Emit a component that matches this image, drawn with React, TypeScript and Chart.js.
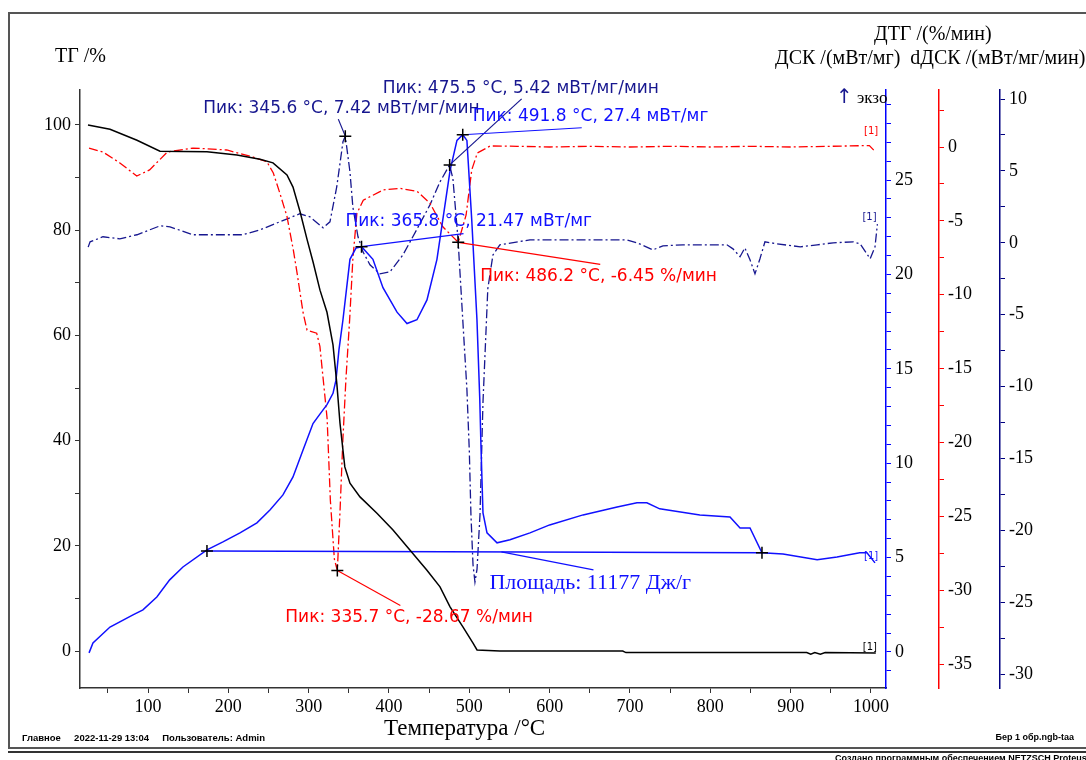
import React, { useEffect, useRef } from 'react';
import { Chart, registerables } from 'chart.js';

Chart.register(...registerables);

// ---------------- data ----------------
// TG, % vs temperature °C
const tgTemp = [25.3, 52.7, 86.3, 114.9, 173.4, 210.7, 239.4, 255.6, 273, 280.5, 289.3, 297.9, 305.4, 314.1, 322.8, 330.3, 335.2, 339, 345, 351.4, 363.9, 385, 405, 426, 447, 463.5, 476, 492, 504.6, 509.6, 538, 691, 695, 920, 925, 930, 937, 943, 1006];
const tgMass = [100.0, 99.2, 97.1, 95.0, 94.9, 94.3, 93.5, 92.8, 90.5, 88.2, 83.5, 78.3, 74.0, 68.6, 64.4, 58.2, 50.6, 43.3, 35.0, 31.9, 29.3, 26.2, 23.0, 19.2, 15.4, 12.2, 8.4, 4.6, 1.5, 0.2, 0.0, 0.0, -0.3, -0.3, -0.6, -0.3, -0.6, -0.3, -0.4];

// DTG, %/min
const dtgTemp = [26.6, 44, 65, 86, 102, 124, 156, 198, 231, 248, 256, 264, 273, 281, 285.5, 293, 298, 310, 314, 319, 323, 327, 332, 335.7, 339, 342.6, 346.4, 351, 355, 360, 368, 393, 414, 435, 451, 467, 486.2, 496, 503, 510, 526, 560, 600, 650, 700, 750, 800, 850, 900, 950, 998, 1005];
const dtgRate = [-0.07, -0.34, -1.08, -1.96, -1.55, -0.34, -0.07, -0.2, -0.68, -1.0, -1.76, -3.1, -4.7, -7.0, -8.5, -11.2, -12.4, -12.6, -13.5, -16.2, -18.4, -23.9, -27.9, -28.67, -24.7, -19.8, -15.7, -11.7, -7.6, -4.5, -3.6, -2.9, -2.8, -3.0, -3.8, -5.4, -6.45, -4.6, -1.55, -0.4, 0.07, 0.05, 0.0, 0.05, 0.0, 0.05, 0.0, 0.05, 0.0, 0.05, 0.1, -0.3];

// DSC, mW/mg
const dscTemp = [26.6, 31.5, 52.7, 81.3, 93.7, 111, 127, 143.5, 173.4, 193.3, 214.5, 235.6, 251.8, 268, 280.5, 293, 305.4, 314, 322.8, 330.3, 334, 337.7, 342.7, 351.4, 359, 365.8, 380, 392.5, 410, 422.4, 434.8, 447.3, 459.7, 467, 476, 484.6, 491.8, 497, 503, 509.5, 513, 514.5, 517, 522, 534.5, 550.6, 575.5, 600, 641.6, 684, 708.7, 721, 737, 787, 824.5, 837, 849.4, 864.3, 890.5, 933, 957.7, 986, 995, 1005];
const dscSignal = [-0.05, 0.48, 1.32, 1.96, 2.23, 2.91, 3.82, 4.5, 5.41, 5.83, 6.31, 6.84, 7.52, 8.32, 9.27, 10.7, 12.1, 12.6, 13.1, 13.7, 14.4, 16.0, 17.6, 20.8, 21.4, 21.47, 20.8, 19.3, 18.0, 17.4, 17.6, 18.65, 20.8, 22.9, 25.5, 27.1, 27.4, 27.1, 22.9, 17.6, 13.4, 10.9, 7.37, 6.31, 5.78, 5.94, 6.31, 6.73, 7.26, 7.68, 7.9, 7.9, 7.58, 7.26, 7.15, 6.57, 6.57, 5.25, 5.19, 4.88, 5.03, 5.25, 5.25, 4.72];

// dDSC, mW/mg/min
const ddscTemp = [25.5, 27.9, 44, 65, 86.3, 115, 127.4, 156, 186, 218, 239.4, 264, 289, 301.6, 318, 326.5, 335, 342.7, 345.6, 351.4, 355, 361.4, 367.6, 376.3, 388.7, 401.2, 417.4, 435, 451, 463.5, 475.5, 479.6, 485.9, 492, 497, 500, 502, 504.6, 507, 509.6, 513.3, 517, 523, 529.4, 538, 575.5, 621.6, 696, 708.7, 728.6, 741, 766, 820.7, 828.2, 837, 843, 849.4, 855.6, 861.8, 868, 883, 912, 933, 953, 978, 986.5, 999, 1005, 1008];
const ddscSignal = [-0.3, 0.07, 0.42, 0.28, 0.56, 1.18, 1.11, 0.56, 0.56, 0.56, 0.9, 1.46, 2.02, 1.81, 1.04, 1.46, 3.9, 7.03, 7.42, 4.94, 2.5, 0.42, -0.63, -1.53, -2.16, -2.02, -0.84, 0.97, 2.64, 4.24, 5.42, 4.45, 0.28, -5.5, -10.2, -14.5, -18.9, -22.4, -23.6, -22.7, -18.9, -11.1, -3.2, -0.84, -0.14, 0.21, 0.21, 0.21, 0.0, -0.49, -0.21, -0.14, -0.14, -0.42, -0.97, -0.35, -1.18, -2.16, -1.11, 0.07, -0.07, -0.28, -0.14, 0.0, 0.07, -0.07, -1.11, -0.28, 1.3];

// DSC integration baseline (area 11177 J/g)
const baselineTemp = [173.4, 864.3];
const baselineDsc = [5.35, 5.25];

// axis ranges / ticks
const tempRange = [15.35, 1018.7];
const tgRange = [-7.03, 106.65];
const dscRange = [-1.91, 29.77];
const dtgRange = [-36.62, 3.86];
const ddscRange = [-30.97, 10.63];

const NAVY = '#17178f';
const BLUE = '#1010ff';
const RED = '#ff0000';

const SERIF = "'Liberation Serif', 'Times New Roman', serif";
const SANS = "'DejaVu Sans', sans-serif";

type Ann = { axis: string; t: number; v: number; text?: string; color: string; dx?: number; dy?: number; lx?: number; ly?: number; font?: string; marker?: boolean };

const annotations: Ann[] = [
  { axis: 'yDDSC', t: 345.6, v: 7.42, text: 'Пик: 345.6 °C, 7.42 мВт/мг/мин', color: NAVY, dx: -142, dy: -28, lx: -7, ly: -17, marker: true },
  { axis: 'yDDSC', t: 475.5, v: 5.42, text: 'Пик: 475.5 °C, 5.42 мВт/мг/мин', color: NAVY, dx: -67, dy: -76, lx: 72, ly: -66, marker: true },
  { axis: 'yDSC', t: 491.8, v: 27.4, text: 'Пик: 491.8 °C, 27.4 мВт/мг', color: BLUE, dx: 10, dy: -18, lx: 119, ly: -7, marker: true },
  { axis: 'yDSC', t: 365.8, v: 21.47, text: 'Пик: 365.8 °C, 21.47 мВт/мг', color: BLUE, dx: -16, dy: -25, lx: 102, ly: -13, marker: true },
  { axis: 'yDTG', t: 486.2, v: -6.45, text: 'Пик: 486.2 °C, -6.45 %/мин', color: RED, dx: 22, dy: 34, lx: 142, ly: 22, marker: true },
  { axis: 'yDTG', t: 335.7, v: -28.67, text: 'Пик: 335.7 °C, -28.67 %/мин', color: RED, dx: -52, dy: 47, lx: 63, ly: 35, marker: true },
  { axis: 'yDSC', t: 540, v: 5.3, text: 'Площадь: 11177 Дж/г', color: BLUE, dx: -12, dy: 31, lx: 92, ly: 18, font: `22px ${SERIF}` },
  { axis: 'yDSC', t: 173.4, v: 5.35, color: BLUE, marker: true },
  { axis: 'yDSC', t: 864.3, v: 5.25, color: BLUE, marker: true },
  { axis: 'yDTG', t: 1005, v: -0.3, text: '[1]', color: RED, dx: -11, dy: -20, font: `10px ${SANS}` },
  { axis: 'yDDSC', t: 1008, v: 1.3, text: '[1]', color: NAVY, dx: -15, dy: -7, font: `10px ${SANS}` },
  { axis: 'yDSC', t: 1005, v: 4.72, text: '[1]', color: BLUE, dx: -11, dy: -6, font: `10px ${SANS}` },
  { axis: 'yTG', t: 1006, v: -0.4, text: '[1]', color: '#000', dx: -13, dy: -6, font: `10px ${SANS}` },
];

const pts = (xs: number[], ys: number[]) => xs.map((x, i) => ({ x, y: ys[i] }));

const labelEvery = (n: number, lo: number, hi: number) => (v: any) => {
  const num = Number(v);
  const r = num / n;
  if (Math.abs(r - Math.round(r)) < 1e-6 && num >= lo - 1e-6 && num <= hi + 1e-6) return String(Math.round(num));
  return '';
};

const yAxis = (position: string, range: number[], step: number, every: number, lo: number, hi: number, color: string, width: number, weight: number) => ({
  type: 'linear',
  position,
  min: range[0],
  max: range[1],
  weight,
  border: { display: true, color, width: 1.5 },
  grid: { drawOnChartArea: false, drawTicks: true, tickLength: 5, color, tickWidth: 1 },
  ticks: {
    stepSize: step,
    autoSkip: false,
    includeBounds: false,
    padding: 4,
    color: '#000',
    font: { family: SERIF, size: 18 },
    callback: labelEvery(every, lo, hi),
  },
  afterFit: (s: any) => {
    s.width = width;
  },
});

const peakPlugin = {
  id: 'peakPlugin',
  afterDatasetsDraw(chart: any) {
    const ctx = chart.ctx;
    const xs = chart.scales.x;
    ctx.save();
    for (const a of annotations) {
      const ys = chart.scales[a.axis];
      const px = xs.getPixelForValue(a.t);
      const py = ys.getPixelForValue(a.v);
      if (a.lx !== undefined && a.ly !== undefined) {
        ctx.strokeStyle = a.color;
        ctx.lineWidth = 1.2;
        ctx.setLineDash([]);
        ctx.beginPath();
        ctx.moveTo(px, py);
        ctx.lineTo(px + a.lx, py + a.ly);
        ctx.stroke();
      }
      if (a.text) {
        ctx.font = a.font || `17px ${SANS}`;
        ctx.fillStyle = a.color;
        ctx.textBaseline = 'middle';
        ctx.textAlign = 'left';
        ctx.fillText(a.text, px + (a.dx || 0), py + (a.dy || 0));
      }
    }
    for (const a of annotations) {
      if (!a.marker) continue;
      const ys = chart.scales[a.axis];
      const px = xs.getPixelForValue(a.t);
      const py = ys.getPixelForValue(a.v);
      ctx.strokeStyle = '#000';
      ctx.lineWidth = 1.5;
      ctx.beginPath();
      ctx.moveTo(px - 6, py);
      ctx.lineTo(px + 6, py);
      ctx.moveTo(px, py - 6);
      ctx.lineTo(px, py + 6);
      ctx.stroke();
    }
    ctx.restore();
  },
};

function ChartCanvas() {
  const ref = useRef<HTMLCanvasElement | null>(null);
  useEffect(() => {
    if (!ref.current) return;
    const dashDot = [9, 3, 2, 3];
    const chart = new Chart(ref.current, {
      type: 'line',
      data: {
        datasets: [
          { label: 'ТГ', data: pts(tgTemp, tgMass), yAxisID: 'yTG', borderColor: '#000', borderWidth: 1.5, pointRadius: 0, tension: 0 },
          { label: 'ДСК', data: pts(dscTemp, dscSignal), yAxisID: 'yDSC', borderColor: BLUE, borderWidth: 1.5, pointRadius: 0, tension: 0 },
          { label: 'baseline', data: pts(baselineTemp, baselineDsc), yAxisID: 'yDSC', borderColor: BLUE, borderWidth: 1.5, pointRadius: 0, tension: 0 },
          { label: 'ДТГ', data: pts(dtgTemp, dtgRate), yAxisID: 'yDTG', borderColor: RED, borderWidth: 1.3, borderDash: dashDot, pointRadius: 0, tension: 0 },
          { label: 'dДСК', data: pts(ddscTemp, ddscSignal), yAxisID: 'yDDSC', borderColor: NAVY, borderWidth: 1.3, borderDash: dashDot, pointRadius: 0, tension: 0 },
        ],
      } as any,
      options: {
        animation: false,
        responsive: false,
        maintainAspectRatio: false,
        events: [],
        layout: { padding: { top: 90, left: 0, right: 0, bottom: 0 } },
        plugins: { legend: { display: false }, tooltip: { enabled: false } },
        scales: {
          x: {
            type: 'linear',
            position: 'bottom',
            min: tempRange[0],
            max: tempRange[1],
            border: { display: true, color: '#333', width: 1.5 },
            grid: { drawOnChartArea: false, drawTicks: true, tickLength: 5, color: '#333' },
            ticks: {
              stepSize: 50,
              autoSkip: false,
              includeBounds: false,
              maxRotation: 0,
              padding: 3,
              color: '#000',
              font: { family: SERIF, size: 18 },
              callback: labelEvery(100, 100, 1000),
            },
            afterFit: (s: any) => {
              s.height = 72;
            },
          },
          yTG: yAxis('left', tgRange, 10, 20, 0, 100, '#333', 80, 0),
          yDSC: yAxis('right', dscRange, 1, 5, 0, 25, '#0000ff', 53, 1),
          yDTG: yAxis('right', dtgRange, 2.5, 5, -35, 0, RED, 61, 2),
          yDDSC: yAxis('right', ddscRange, 2.5, 5, -30, 10, '#000080', 86, 3),
        },
      } as any,
      plugins: [peakPlugin],
    });
    return () => chart.destroy();
  }, []);
  return <canvas ref={ref} width={1086} height={760} style={{ position: 'absolute', left: 0, top: 0 }} />;
}

const txt = (style: React.CSSProperties): React.CSSProperties => ({
  position: 'absolute',
  whiteSpace: 'pre',
  lineHeight: 1,
  transform: 'translateY(-50%)',
  ...style,
});

export default function App() {
  return (
    <div style={{ position: 'absolute', left: 0, top: 0, width: 1086, height: 760, overflow: 'hidden', background: '#fff' }}>
      <div style={{ position: 'absolute', left: 8, top: 12, width: 1100, height: 737, border: '2px solid #555', boxSizing: 'border-box' }} />
      <div style={{ position: 'absolute', left: 8, top: 751, width: 1100, height: 2, background: '#333' }} />
      <ChartCanvas />
      <div style={txt({ left: 55, top: 55, font: `20px ${SERIF}`, color: '#000' })}>ТГ /%</div>
      <div style={txt({ left: 874, top: 33, font: `20px ${SERIF}`, color: '#000' })}>ДТГ /(%/мин)</div>
      <div style={txt({ left: 775, top: 57, font: `20px ${SERIF}`, color: '#000' })}>ДСК /(мВт/мг)  dДСК /(мВт/мг/мин)</div>
      <div style={txt({ left: 836, top: 96, font: `17px ${SERIF}`, color: '#000' })}>
        <span style={{ color: NAVY, fontSize: 20, fontFamily: "'DejaVu Sans', sans-serif" }}>↑</span> экзо
      </div>
      <div style={txt({ left: 384, top: 728, font: `23px ${SERIF}`, color: '#000' })}>Температура /°C</div>
      <div style={txt({ left: 22, top: 737, font: `bold 9.5px 'Liberation Sans', sans-serif`, color: '#000' })}>
        Главное     2022-11-29 13:04     Пользователь: Admin
      </div>
      <div style={txt({ right: 12, top: 737, font: `bold 9px 'Liberation Sans', sans-serif`, color: '#000' })}>Бер 1 обр.ngb-taa</div>
      <div style={txt({ left: 835, top: 758, font: `bold 9px 'Liberation Sans', sans-serif`, color: '#000' })}>
        Создано программным обеспечением NETZSCH Proteus
      </div>
    </div>
  );
}
